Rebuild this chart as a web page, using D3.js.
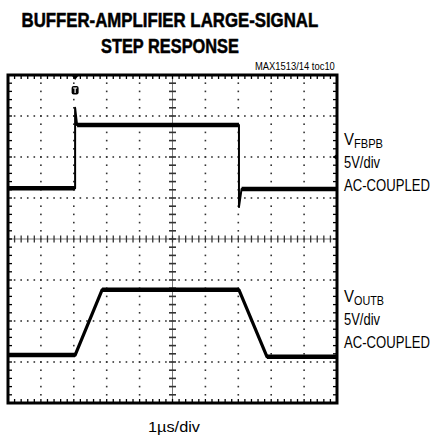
<html>
    <head>
       <style>

body {
    margin: 0;
    background: #fff;
}
text {
    font-family: "Liberation Sans", Arial, sans-serif;
    fill: #000;
}
.trace {
    fill: none;
    stroke: #000;
    stroke-linejoin: round;
}

       </style>
    </head>
    <body>

        <svg></svg>

        <script src="https://d3js.org/d3.v7.min.js"></script>

        <script>
// scope screen: 10 divisions across (1us/div), 8 divisions high
var timeDivs = d3.range(0, 11),
    levelDivs = d3.range(-4, 5);

// traces, [time div, level div]
var vfbpb = [[0, 1.24], [2.04, 1.24], [2.04, 3.2], [2.1, 2.78], [7.02, 2.78],
             [7.02, 0.78], [7.1, 1.22], [10, 1.22]];
var voutb = [[0, -2.83], [2.04, -2.83], [2.86, -1.24], [7.02, -1.24],
             [7.87, -2.87], [10, -2.87]];

var titleLines = ["BUFFER-AMPLIFIER LARGE-SIGNAL", "STEP RESPONSE"];
var channelNames = [["V", "FBPB"], ["V", "OUTB"]];
var channelScales = ["5V/div", "5V/div"];
var channelCoupling = ["AC-COUPLED", "AC-COUPLED"];
var timeLabel = "1\u00b5s/div";
var figureId = "MAX1513/14 toc10";

var width = 436,
    height = 437;

var x = d3.scaleLinear().domain([0, 10]).range([8, 337]);
var y = d3.scaleLinear().domain([4, -4]).range([75, 403]);

var svg = d3.select("svg")
    .attr("width", width)
    .attr("height", height);

// no narrow face installed, so squeeze each text to the width it has in the original
function narrowText(str, px, py, size, len, bold) {
  var t = svg.append("text")
      .style("font-size", size + "px")
      .style("font-weight", bold ? "bold" : null)
      .text(str);
  var w = t.node().getComputedTextLength();
  t.attr("transform", "translate(" + px + "," + py + ") scale(" + (len / w) + ",1)");
  return t;
}

// title
var titleWidths = [297, 138];
titleLines.forEach(function(d, i) {
  narrowText(d, 170 - titleWidths[i] / 2, 27 + i * 26, 19.5, titleWidths[i], true)
      .style("stroke", "#000")
      .style("stroke-width", 0.5);
});

narrowText(figureId, 255, 70, 10, 80);

var screen = svg.append("g");

// minor positions (5 per division)
var minorT = d3.range(0, 50.5).map(function(d) { return d / 5; }),
    minorV = d3.range(-20, 20.5).map(function(d) { return d / 5; });

// dotted graticule
timeDivs.filter(function(d) { return d > 0 && d < 10 && d != 5; }).forEach(function(t) {
  screen.selectAll(null)
      .data(minorV.filter(function(v) { return v > -4 && v < 4; }))
    .enter().append("rect")
      .attr("x", x(t) - 0.8)
      .attr("y", function(v) { return y(v) - 0.8; })
      .attr("width", 1.6)
      .attr("height", 1.6)
      .attr("fill", "#333");
});
levelDivs.filter(function(d) { return d > -4 && d < 4 && d != 0; }).forEach(function(v) {
  screen.selectAll(null)
      .data(minorT.filter(function(t) { return t > 0 && t < 10; }))
    .enter().append("rect")
      .attr("x", function(t) { return x(t) - 0.8; })
      .attr("y", y(v) - 0.8)
      .attr("width", 1.6)
      .attr("height", 1.6)
      .attr("fill", "#333");
});

// centre axes with minor ticks
screen.append("line")
    .attr("x1", x(0)).attr("x2", x(10))
    .attr("y1", y(0)).attr("y2", y(0))
    .attr("stroke", "#777").attr("stroke-width", 1);
screen.append("line")
    .attr("x1", x(5)).attr("x2", x(5))
    .attr("y1", y(4)).attr("y2", y(-4))
    .attr("stroke", "#777").attr("stroke-width", 1);

screen.selectAll(".tickh")
    .data(minorT)
  .enter().append("line")
    .attr("x1", function(t) { return x(t); })
    .attr("x2", function(t) { return x(t); })
    .attr("y1", y(0) - 3.5)
    .attr("y2", y(0) + 3.5)
    .attr("stroke", "#333").attr("stroke-width", 1.3);
screen.selectAll(".tickv")
    .data(minorV)
  .enter().append("line")
    .attr("x1", x(5) - 3.5)
    .attr("x2", x(5) + 3.5)
    .attr("y1", function(v) { return y(v); })
    .attr("y2", function(v) { return y(v); })
    .attr("stroke", "#333").attr("stroke-width", 1.6);

// ticks along the frame
[[y(4), 4], [y(-4), -4]].forEach(function(e) {
  screen.selectAll(null)
      .data(minorT)
    .enter().append("line")
      .attr("x1", function(t) { return x(t); })
      .attr("x2", function(t) { return x(t); })
      .attr("y1", e[0])
      .attr("y2", e[0] + e[1])
      .attr("stroke", "#000").attr("stroke-width", 1.3);
});
[[x(0), 4], [x(10), -4]].forEach(function(e) {
  screen.selectAll(null)
      .data(minorV)
    .enter().append("line")
      .attr("x1", e[0])
      .attr("x2", e[0] + e[1])
      .attr("y1", function(v) { return y(v); })
      .attr("y2", function(v) { return y(v); })
      .attr("stroke", "#000").attr("stroke-width", 1.3);
});

screen.append("rect")
    .attr("x", x(0))
    .attr("y", y(4))
    .attr("width", x(10) - x(0))
    .attr("height", y(-4) - y(4))
    .attr("fill", "none")
    .attr("stroke", "#000")
    .attr("stroke-width", 3);

// traces
var line = d3.line()
    .x(function(d) { return x(d[0]); })
    .y(function(d) { return y(d[1]); });

[vfbpb, voutb].forEach(function(trace, i) {
  screen.append("path")
      .datum(trace)
      .attr("class", "trace")
      .attr("stroke-width", i == 0 ? 2 : 3.2)
      .attr("d", line);

  // flat parts show up heavier on the scope
  var flats = d3.pairs(trace).filter(function(p) { return p[0][1] == p[1][1]; });
  screen.selectAll(null)
      .data(flats)
    .enter().append("path")
      .attr("class", "trace")
      .attr("stroke-width", 4.5)
      .attr("d", line);
});

// trigger marker
var trigX = x(vfbpb[1][0]);
screen.append("path")
    .attr("d", "M" + (trigX - 3) + "," + (y(4) + 1) + "h6l-3,4z")
    .attr("fill", "#000");
screen.append("rect")
    .attr("x", trigX - 3.5)
    .attr("y", 86)
    .attr("width", 7)
    .attr("height", 8.5)
    .attr("rx", 2)
    .attr("fill", "#000");
screen.append("path")
    .attr("d", "M" + (trigX - 2) + ",88h4M" + trigX + ",88v5")
    .attr("stroke", "#fff")
    .attr("stroke-width", 1.2);

// channel 1 ground marker
screen.append("path")
    .attr("d", "M" + (x(10) + 1) + "," + (y(2) - 4) + "v8l-5,-4z")
    .attr("fill", "#000");

// channel labels
var labelTop = [145, 302];
channelNames.forEach(function(n, i) {
  narrowText(n[0], 344, labelTop[i], 16, 10);
  narrowText(n[1], 354, labelTop[i] + 2.5, 12.5, i == 0 ? 29 : 30);
  narrowText(channelScales[i], 344, labelTop[i] + 23, 16, 36);
  narrowText(channelCoupling[i], 344, labelTop[i] + 46, 16, 86);
});

narrowText(timeLabel, 148, 432, 14.5, 52);

        </script>
    </body>
</html>
